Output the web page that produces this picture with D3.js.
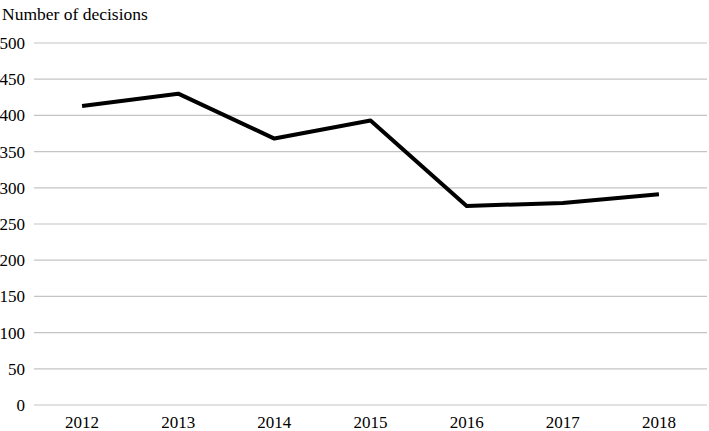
<!DOCTYPE html>
<html><head><meta charset="utf-8">
<script src="https://cdn.jsdelivr.net/npm/d3@7"></script>
<style>body{margin:0;background:#fff}svg{display:block}</style>
</head><body>
<svg id="c" width="709" height="431"></svg>
<script>
const years = ["2012","2013","2014","2015","2016","2017","2018"];
const decisions = [413, 430, 368, 393, 275, 279, 291];
const yTicks = [0,50,100,150,200,250,300,350,400,450,500];
const yTitle = "Number of decisions";

(function(){
const FONT = "'Liberation Serif', 'Times New Roman', serif";
const svg = d3.select("#c").attr("font-family", FONT);
const mLeft = 34, mRight = 707, mTop = 43, mBottom = 405;
const x = d3.scaleBand().domain(years).range([mLeft, mRight]);
const y = d3.scaleLinear().domain([0,500]).range([mBottom, mTop]);

svg.append("g").selectAll("line").data(yTicks).join("line")
  .attr("x1", mLeft).attr("x2", mRight)
  .attr("y1", d => y(d)).attr("y2", d => y(d))
  .attr("stroke", "#c4c4c4").attr("stroke-width", 1.2);

svg.append("g").selectAll("text").data(yTicks).join("text")
  .attr("x", 25).attr("y", d => y(d)).attr("dy", "0.35em")
  .attr("text-anchor", "end").attr("font-size", 17).attr("fill", "#000")
  .attr("font-family", FONT)
  .text(d => d);

svg.append("g").selectAll("text").data(years).join("text")
  .attr("x", d => x(d) + x.bandwidth()/2).attr("y", 428)
  .attr("text-anchor", "middle").attr("font-size", 17).attr("fill", "#000")
  .attr("font-family", FONT)
  .text(d => d);

svg.append("text").attr("x", 2).attr("y", 20).attr("font-size", 17.5)
  .attr("font-family", FONT).text(yTitle);

const line = d3.line().x((d,i) => x(years[i]) + x.bandwidth()/2).y(d => y(d));
svg.append("path").datum(decisions).attr("d", line)
  .attr("fill", "none").attr("stroke", "#000").attr("stroke-width", 4)
  .attr("stroke-linejoin", "round");
})();
</script>
</body></html>
